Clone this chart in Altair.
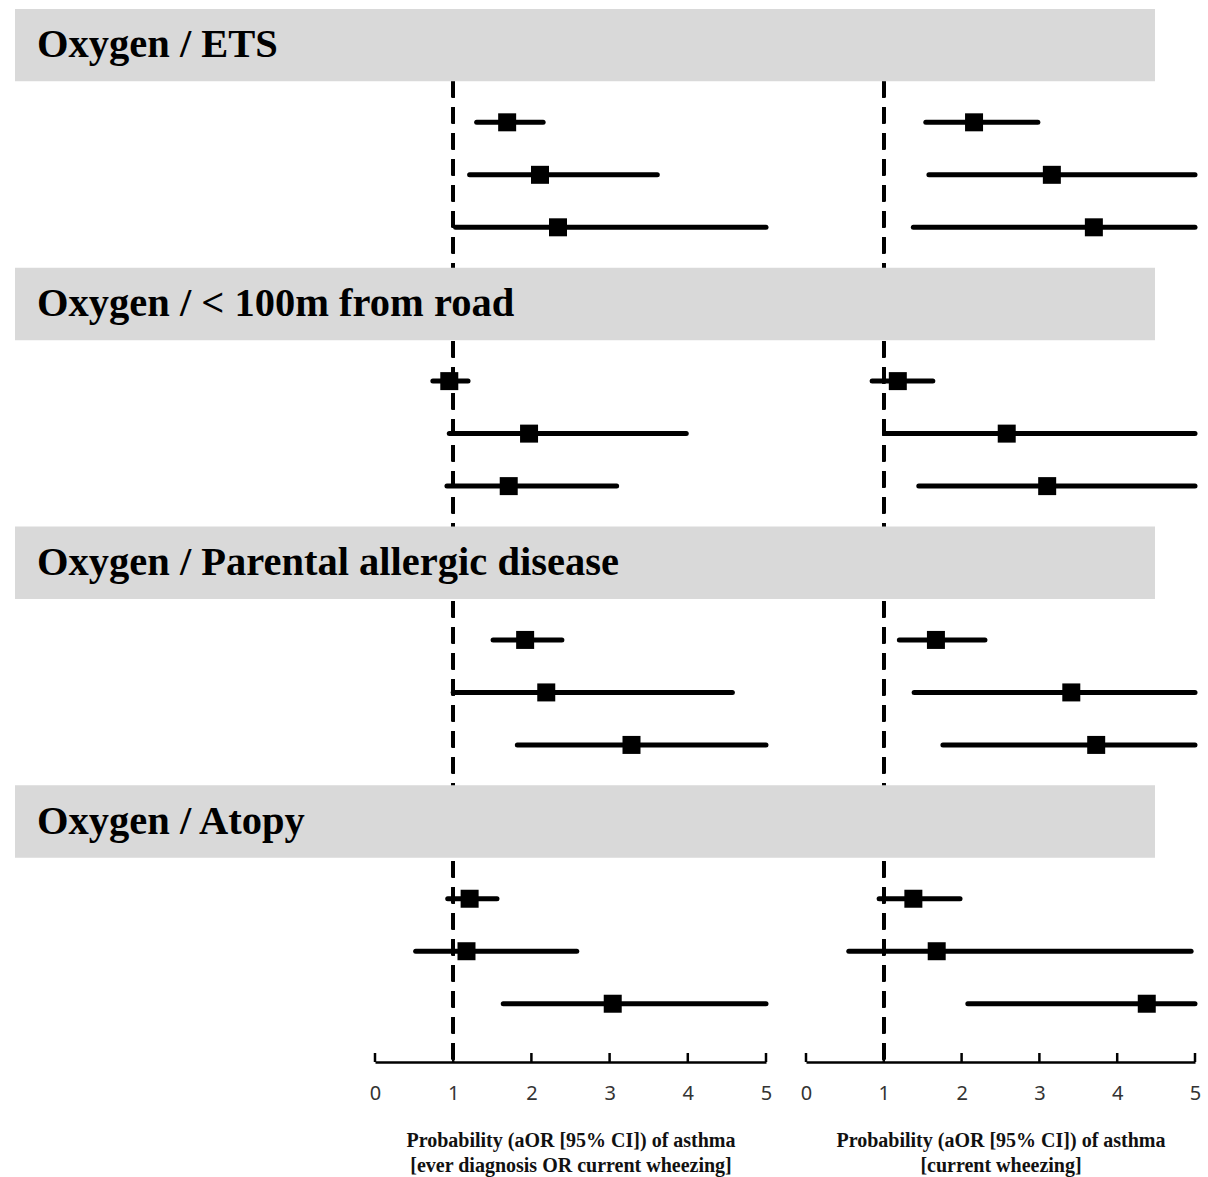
import altair as alt
import pandas as pd

# ---------------- data ----------------
groups = ["Oxygen / ETS", "Oxygen / < 100m from road",
          "Oxygen / Parental allergic disease", "Oxygen / Atopy"]

left_or = [1.69, 2.11, 2.34, 0.95, 1.97, 1.71, 1.92, 2.19, 3.28, 1.21, 1.17, 3.04]
left_lo = [1.30, 1.21, 1.03, 0.74, 0.95, 0.92, 1.51, 1.00, 1.82, 0.93, 0.52, 1.64]
left_hi = [2.15, 3.61, 5.00, 1.19, 3.98, 3.09, 2.39, 4.57, 5.00, 1.56, 2.58, 5.00]

right_or = [2.16, 3.16, 3.70, 1.18, 2.58, 3.10, 1.67, 3.41, 3.73, 1.38, 1.68, 4.38]
right_lo = [1.54, 1.58, 1.38, 0.85, 1.02, 1.45, 1.20, 1.39, 1.76, 0.94, 0.55, 2.08]
right_hi = [2.98, 5.00, 5.00, 1.63, 5.00, 5.00, 2.30, 5.00, 5.00, 1.98, 4.95, 5.00]

tick_values = [0, 1, 2, 3, 4, 5]

left_title = ["Probability (aOR [95% CI]) of asthma",
              "[ever diagnosis OR current wheezing]"]
right_title = ["Probability (aOR [95% CI]) of asthma", "[current wheezing]"]

# ---------------- layout (row slots) ----------------
ROWS_PER_GROUP = 3
HEADER_FIRST = 0.86
GROUP_PERIOD = 4.93
HEADER_TO_ROW = 1.47
BAND_HALF = 0.69
Y_MAX = 20.23

header_pos = [HEADER_FIRST + GROUP_PERIOD * g for g in range(len(groups))]
headers = pd.DataFrame({
    "group": groups,
    "pos": header_pos,
    "top": [p - BAND_HALF for p in header_pos],
    "bottom": [p + BAND_HALF for p in header_pos],
})

row_pos = [header_pos[g] + HEADER_TO_ROW + r
           for g in range(len(groups)) for r in range(ROWS_PER_GROUP)]

left_df = pd.DataFrame({"pos": row_pos, "or_": left_or, "lo": left_lo, "hi": left_hi})
right_df = pd.DataFrame({"pos": row_pos, "or_": right_or, "lo": right_lo, "hi": right_hi})
ticks_df = pd.DataFrame({"t": tick_values})

W, H = 1208, 1062
yscale = alt.Scale(domain=[0, Y_MAX], range=[0, H], nice=False, zero=False)


def xscale(x_range):
    return alt.Scale(domain=[0, 5], range=x_range, nice=False, zero=False)


def dashed(df, x_range):
    return alt.Chart(df).mark_rule(color="black", strokeWidth=3,
                                   strokeDash=[16, 10]).encode(
        x=alt.datum(1, scale=xscale(x_range), axis=None),
        y=alt.datum(headers["bottom"].iloc[0], scale=yscale, axis=None),
        y2=alt.datum(Y_MAX),
    )


def front(df, x_range, title):
    xs = xscale(x_range)
    axis = alt.Axis(orient="bottom", values=tick_values, ticks=False, grid=False,
                    domainColor="black", domainWidth=2.5, labelFont="Noto Sans",
                    labelFontSize=20, labelColor="#333333", labelPadding=21,
                    title=title, titleFont="Liberation Serif", titleFontSize=20,
                    titleFontWeight="bold", titleColor="#111111", titlePadding=27,
                    titleLineHeight=25, format="d", labelFlush=False)
    ci = alt.Chart(df).mark_rule(color="black", strokeWidth=5, strokeCap="round").encode(
        x=alt.X("lo:Q", scale=xs, axis=axis),
        x2="hi:Q",
        y=alt.Y("pos:Q", scale=yscale, axis=None),
    )
    sq = alt.Chart(df).mark_square(color="black", opacity=1, size=324, filled=True).encode(
        x=alt.X("or_:Q", scale=xs, axis=axis),
        y=alt.Y("pos:Q", scale=yscale, axis=None),
    )
    tk = alt.Chart(ticks_df).mark_tick(color="black", orient="vertical", size=9,
                                       thickness=2.5, yOffset=-4.5, opacity=1).encode(
        x=alt.X("t:Q", scale=xs, axis=axis),
        y=alt.datum(Y_MAX, scale=yscale, axis=None),
    )
    return alt.layer(ci, sq, tk)


bands = alt.Chart(headers).mark_rect(color="#d9d9d9").encode(
    x=alt.value(15), x2=alt.value(1155),
    y=alt.Y("top:Q", scale=yscale, axis=None), y2="bottom:Q",
)
texts = alt.Chart(headers).mark_text(
    align="left", baseline="middle", font="Liberation Serif", fontWeight="bold",
    fontSize=40.5, color="black",
).encode(
    x=alt.value(37),
    y=alt.Y("pos:Q", scale=yscale, axis=None),
    text="group:N",
)

L_RANGE = [375, 766]
R_RANGE = [806, 1195]

chart = alt.layer(
    dashed(left_df, L_RANGE), dashed(right_df, R_RANGE),
    bands, texts,
    front(left_df, L_RANGE, left_title), front(right_df, R_RANGE, right_title),
).resolve_scale(
    x="independent"
).resolve_axis(x="independent").properties(
    width=W, height=H, background="white",
    autosize=alt.AutoSizeParams(type="none"),
    padding={"left": 0, "top": 0, "right": 0, "bottom": 115},
).configure_view(stroke=None)

chart.save("out.html", embed_options={"renderer": "svg", "actions": False})
